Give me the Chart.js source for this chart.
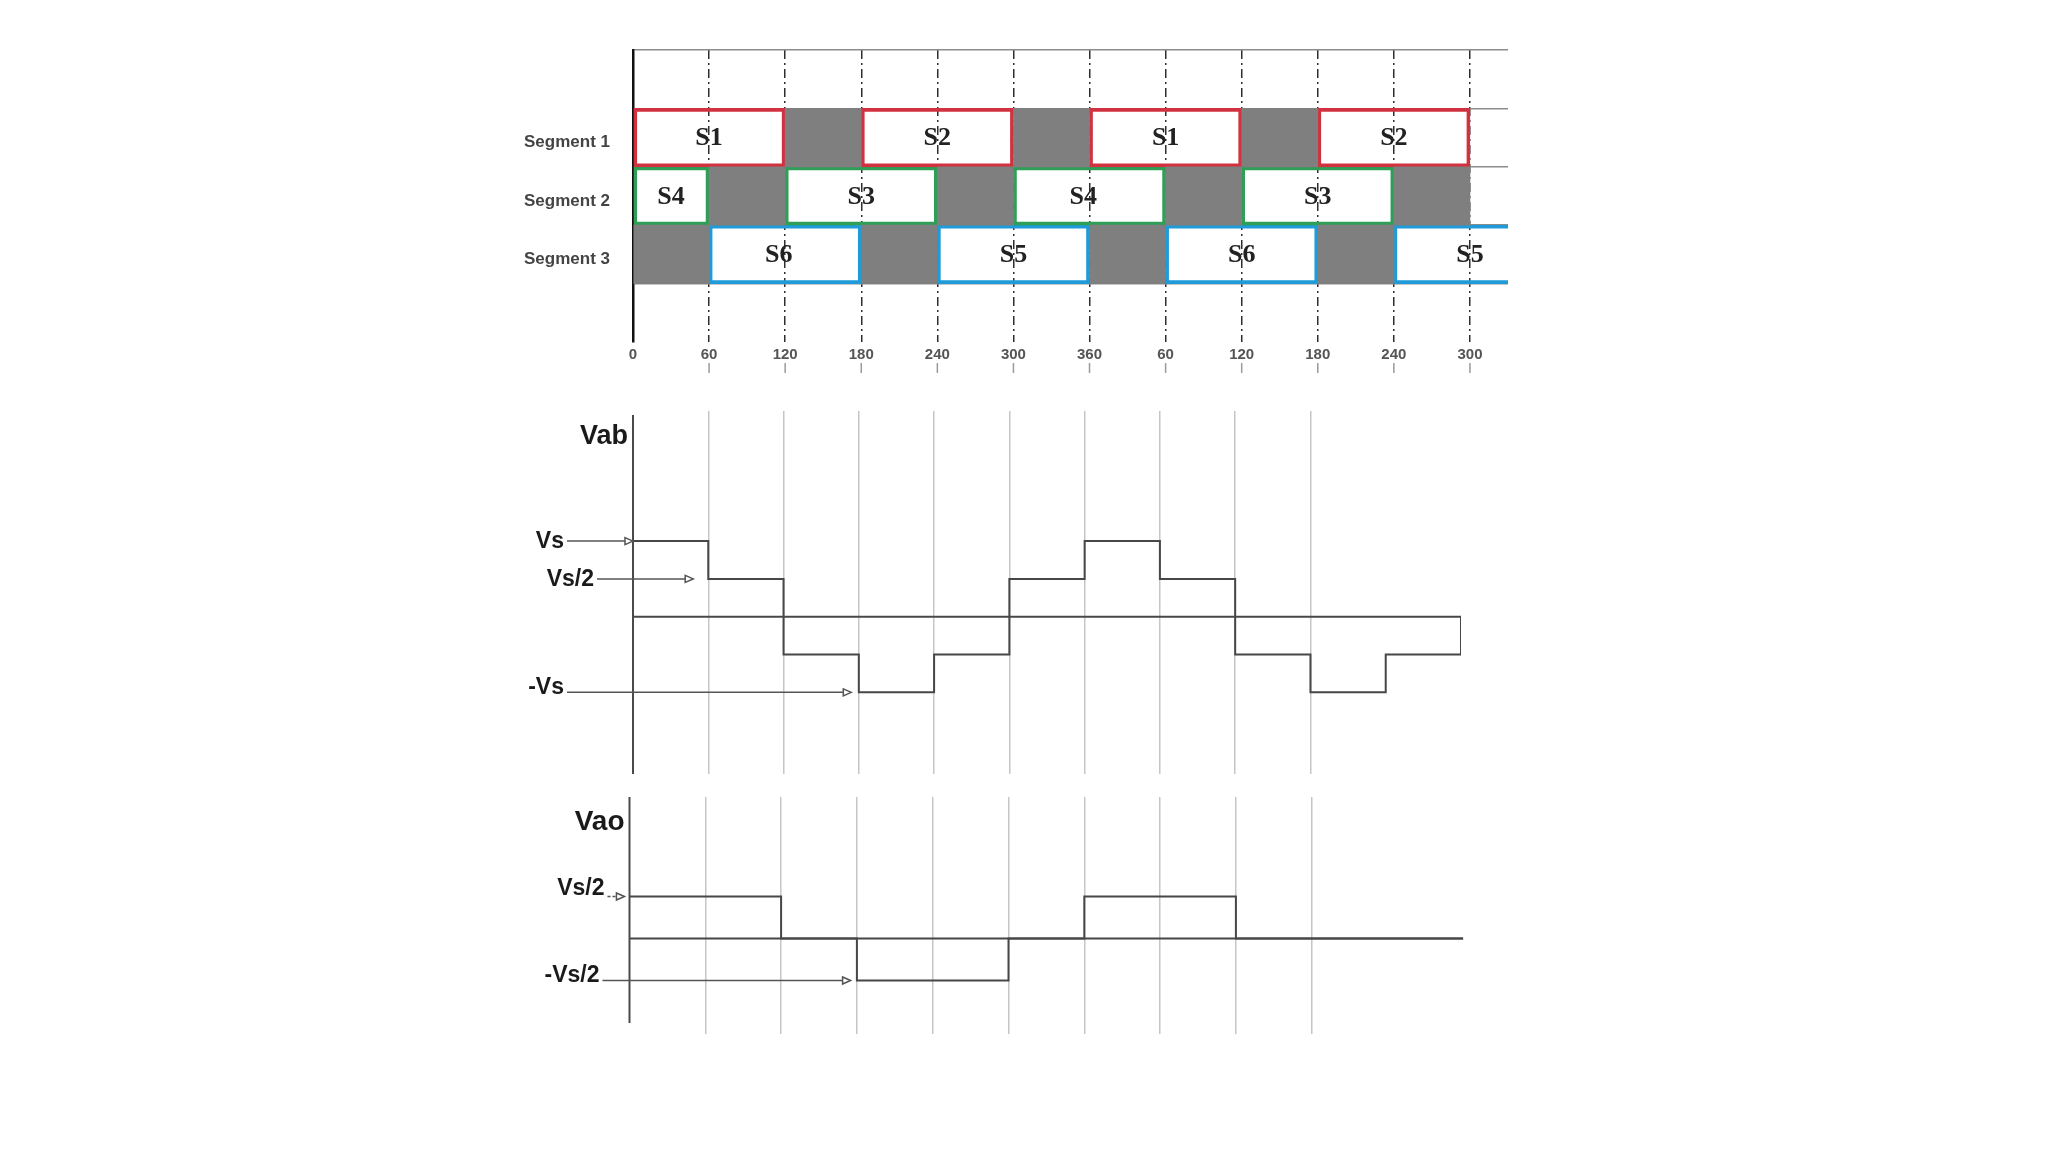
<!DOCTYPE html>
<html><head><meta charset="utf-8">
<script src="https://cdn.jsdelivr.net/npm/chart.js@4.4.1/dist/chart.umd.min.js"></script>
<style>
html,body{margin:0;padding:0;background:#fff;}
#wrap{position:relative;width:2048px;height:1152px;background:#fff;overflow:hidden;}
canvas{position:absolute;left:0;}
</style></head><body>
<div id="wrap">
<canvas id="c1" width="2048" height="400" style="top:0px"></canvas>
<canvas id="c2" width="2048" height="390" style="top:400px"></canvas>
<canvas id="c3" width="2048" height="362" style="top:790px"></canvas>
</div>
<script>
// ---------------- data ----------------
const rowCategories = [' ', 'Segment 1', 'Segment 2', 'Segment 3', '  '];
const angleTicks = [0, 60, 120, 180, 240, 300, 360, 420, 480, 540, 600, 660];
const angleTickLabels = ['0', '60', '120', '180', '240', '300', '360', '60', '120', '180', '240', '300'];
const angleMax = 690;

const seg1On = [[0, 120], [180, 300], [360, 480], [540, 660]];
const seg1Names = ['S1', 'S2', 'S1', 'S2'];
const seg1NameAt = [60, 240, 420, 600];
const seg1Off = [[120, 180], [300, 360], [480, 540]];

const seg2On = [[0, 60], [120, 240], [300, 420], [480, 600]];
const seg2Names = ['S4', 'S3', 'S4', 'S3'];
const seg2NameAt = [30, 180, 355, 540];
const seg2Off = [[60, 120], [240, 300], [420, 480], [600, 660]];

const seg3On = [[60, 180], [240, 360], [420, 540], [600, 690]];
const seg3Names = ['S6', 'S5', 'S6', 'S5'];
const seg3NameAt = [115, 300, 480, 660];
const seg3Off = [[0, 60], [180, 240], [360, 420], [540, 600]];

const waveAngles = [0, 60, 120, 180, 240, 300, 360, 420, 480, 540, 600, 660];
const vabLevels = [1, 0.5, -0.5, -1, -0.5, 0.5, 1, 0.5, -0.5, -1, -0.5, 0];
const vaoLevels = [0.5, 0.5, 0, -0.5, -0.5, 0, 0.5, 0.5, 0, 0, 0, 0];
const waveGridAngles = [60, 120, 180, 240, 300, 360, 420, 480, 540];

const vabMarkTexts = ['Vs', 'Vs/2', '-Vs'];
const vabMarkLevels = [1, 0.5, -1];
const vabMarkArrowTo = [0, 48, 174];
const vaoMarkTexts = ['Vs/2', '-Vs/2'];
const vaoMarkLevels = [0.5, -0.5];
const vaoMarkArrowTo = [-4, 175];

// ---------------- helpers ----------------
const SANS = '"Liberation Sans", Arial, sans-serif';
const SERIF = '"Liberation Serif", "Times New Roman", serif';
const LINE = '#474747';

function rows(list, seg) { return list.map(r => ({ x: r, y: seg })); }

const baseOpts = {
  responsive: false, animation: false, events: [],
  layout: { autoPadding: false },
  plugins: { legend: { display: false }, tooltip: { enabled: false } }
};

// ---------------- chart 1: switching segments ----------------
const onColors = ['#d2323f', '#2f9e57', '#1e9bd8'];
function onSet(list, seg, color) {
  return {
    data: rows(list, seg),
    backgroundColor: 'rgba(255,255,255,0)',
    borderColor: color,
    borderWidth: (ctx) => (ctx.raw && ctx.raw.x && ctx.raw.x[1] >= angleMax) ? { top: 3, bottom: 3, left: 3, right: 0 } : 3,
    borderSkipped: false,
    grouped: false, barPercentage: 1, categoryPercentage: 1
  };
}

const namesPlugin = {
  id: 'names',
  afterDatasetsDraw(chart) {
    const { ctx, scales: { x, y } } = chart;
    const sets = [
      ['Segment 1', seg1Names, seg1NameAt],
      ['Segment 2', seg2Names, seg2NameAt],
      ['Segment 3', seg3Names, seg3NameAt]
    ];
    ctx.save();
    ctx.font = 'bold 26px ' + SERIF;
    ctx.fillStyle = '#222';
    ctx.textAlign = 'center';
    ctx.textBaseline = 'middle';
    sets.forEach(([seg, names, at]) => {
      const py = y.getPixelForValue(rowCategories.indexOf(seg));
      names.forEach((n, i) => ctx.fillText(n, x.getPixelForValue(at[i]), py + 1));
    });
    ctx.restore();
  },
  afterDraw(chart) {
    const { ctx, chartArea, scales: { x } } = chart;
    ctx.save();
    ctx.strokeStyle = '#9a9a9a';
    ctx.lineWidth = 1.5;
    angleTicks.forEach(v => {
      if (v === 0) return;
      const px = x.getPixelForValue(v);
      ctx.beginPath();
      ctx.moveTo(px, chartArea.bottom + 21); ctx.lineTo(px, chartArea.bottom + 31);
      ctx.stroke();
    });
    ctx.restore();
  }
};

new Chart(document.getElementById('c1'), {
  type: 'bar',
  data: {
    labels: rowCategories,
    datasets: [
      {
        data: [...rows(seg1Off, 'Segment 1'), ...rows(seg2Off, 'Segment 2'), ...rows(seg3Off, 'Segment 3')],
        backgroundColor: '#7f7f7f', borderWidth: 0,
        grouped: false, barPercentage: 1, categoryPercentage: 1
      },
      onSet(seg1On, 'Segment 1', onColors[0]),
      onSet(seg2On, 'Segment 2', onColors[1]),
      onSet(seg3On, 'Segment 3', onColors[2])
    ]
  },
  options: Object.assign({}, baseOpts, {
    indexAxis: 'y',
    layout: { autoPadding: false, padding: { left: 0, right: 2048 - 1508, top: 50, bottom: 0 } },
    scales: {
      x: {
        type: 'linear', min: 0, max: angleMax,
        afterBuildTicks: (s) => { s.ticks = angleTicks.map(v => ({ value: v })); },
        afterFit: (s) => { s.height = 58; },
        grid: {
          color: (c) => (c.tick && c.tick.value === 0) ? 'rgba(0,0,0,0)' : '#2e2e2e',
          lineWidth: 1.5, drawTicks: false
        },
        border: { display: false, dash: [9, 4, 2, 4] },
        ticks: {
          padding: 4, color: '#555', font: { family: SANS, size: 15, weight: 'bold' },
          maxRotation: 0, autoSkip: false,
          callback: (v) => { const i = angleTicks.indexOf(v); return i >= 0 ? angleTickLabels[i] : ''; }
        }
      },
      y: {
        type: 'category',
        afterFit: (s) => { s.width = 633; },
        grid: {
          offset: true, drawTicks: false, lineWidth: 1.5,
          color: (c) => c.type === 'tick' ? '#8c8c8c' : 'rgba(0,0,0,0)'
        },
        border: { display: true, color: '#111', width: 2.5 },
        ticks: { padding: 23, labelOffset: 5, color: '#444', font: { family: SANS, size: 17, weight: 'bold' } }
      }
    }
  }),
  plugins: [namesPlugin]
});

// ---------------- waveform charts ----------------
function arrowHead(ctx, tx, ty) {
  ctx.beginPath();
  ctx.moveTo(tx, ty);
  ctx.lineTo(tx - 8, ty - 3.5);
  ctx.lineTo(tx - 8, ty + 3.5);
  ctx.closePath();
  ctx.fillStyle = '#fff';
  ctx.fill();
  ctx.stroke();
}

const annotPlugin = {
  id: 'annot',
  afterDatasetsDraw(chart, args, opts) {
    const { ctx, chartArea, scales: { x, y } } = chart;
    const axisX = x.getPixelForValue(0);
    ctx.save();
    // axis line
    ctx.strokeStyle = '#4a4a4a';
    ctx.lineWidth = 2;
    ctx.beginPath();
    ctx.moveTo(axisX, chartArea.top + opts.axisTop);
    ctx.lineTo(axisX, chartArea.bottom - opts.axisBottom);
    ctx.stroke();
    ctx.fillStyle = '#1a1a1a';
    ctx.textBaseline = 'middle';
    ctx.textAlign = 'right';
    ctx.font = 'bold ' + opts.titleSize + 'px ' + SANS;
    ctx.fillText(opts.title, axisX - 5, chartArea.top + opts.titleDy);
    ctx.font = 'bold 23px ' + SANS;
    opts.texts.forEach((t, i) => {
      const py = y.getPixelForValue(opts.levels[i]);
      const start = axisX - opts.starts[i];
      ctx.fillStyle = '#1a1a1a';
      ctx.fillText(t, start - 3, py + opts.dys[i]);
      const tip = x.getPixelForValue(opts.arrowTo[i]);
      ctx.strokeStyle = '#555';
      ctx.lineWidth = 1.5;
      ctx.setLineDash(opts.dashed[i] ? [3, 2] : []);
      ctx.beginPath(); ctx.moveTo(start, py); ctx.lineTo(tip - 8, py); ctx.stroke();
      ctx.setLineDash([]);
      arrowHead(ctx, tip, py);
    });
    ctx.restore();
  }
};

function waveChart(id, levels, yMin, yMax, pad, annot) {
  return new Chart(document.getElementById(id), {
    type: 'line',
    data: {
      datasets: [
        {
          data: [{ x: waveAngles[0], y: 0 }, { x: waveAngles[waveAngles.length - 1], y: 0 }],
          borderColor: LINE, borderWidth: 2, pointRadius: 0, tension: 0
        },
        {
          data: waveAngles.map((a, i) => ({ x: a, y: levels[i] })),
          borderColor: LINE, borderWidth: 2, pointRadius: 0, stepped: true
        }
      ]
    },
    options: Object.assign({}, baseOpts, {
      layout: { autoPadding: false, padding: pad },
      plugins: { legend: { display: false }, tooltip: { enabled: false }, annot: annot },
      scales: {
        x: {
          type: 'linear', min: waveAngles[0], max: waveAngles[waveAngles.length - 1],
          afterBuildTicks: (s) => { s.ticks = angleTicks.map(v => ({ value: v })); },
          afterFit: (s) => { s.height = 0; },
          ticks: { display: false },
          grid: {
            drawTicks: false, lineWidth: 1.5,
            color: (c) => (c.tick && waveGridAngles.includes(c.tick.value)) ? '#c6c6c6' : 'rgba(0,0,0,0)'
          },
          border: { display: false }
        },
        y: {
          type: 'linear', min: yMin, max: yMax,
          afterFit: (s) => { s.width = 0; },
          ticks: { display: false },
          grid: { drawTicks: false, color: 'rgba(0,0,0,0)' },
          border: { display: false }
        }
      }
    }),
    plugins: [annotPlugin]
  });
}

waveChart('c2', vabLevels, -2.08, 2.72,
  { left: 633, right: 2048 - 1461, top: 11, bottom: 16 },
  { title: 'Vab', titleSize: 27, titleDy: 26, axisTop: 4, axisBottom: 0, texts: vabMarkTexts, levels: vabMarkLevels,
    arrowTo: vabMarkArrowTo, starts: [66, 36, 66], dys: [1, 1, -5], dashed: [false, false, false] });

waveChart('c3', vaoLevels, -1.137, 1.685,
  { left: 629.5, right: 2048 - 1463.3, top: 7, bottom: 118 },
  { title: 'Vao', titleSize: 28, titleDy: 25, axisTop: 0, axisBottom: 11, texts: vaoMarkTexts, levels: vaoMarkLevels,
    arrowTo: vaoMarkArrowTo, starts: [22, 27], dys: [-8, -5], dashed: [true, false] });
</script>
</body></html>
